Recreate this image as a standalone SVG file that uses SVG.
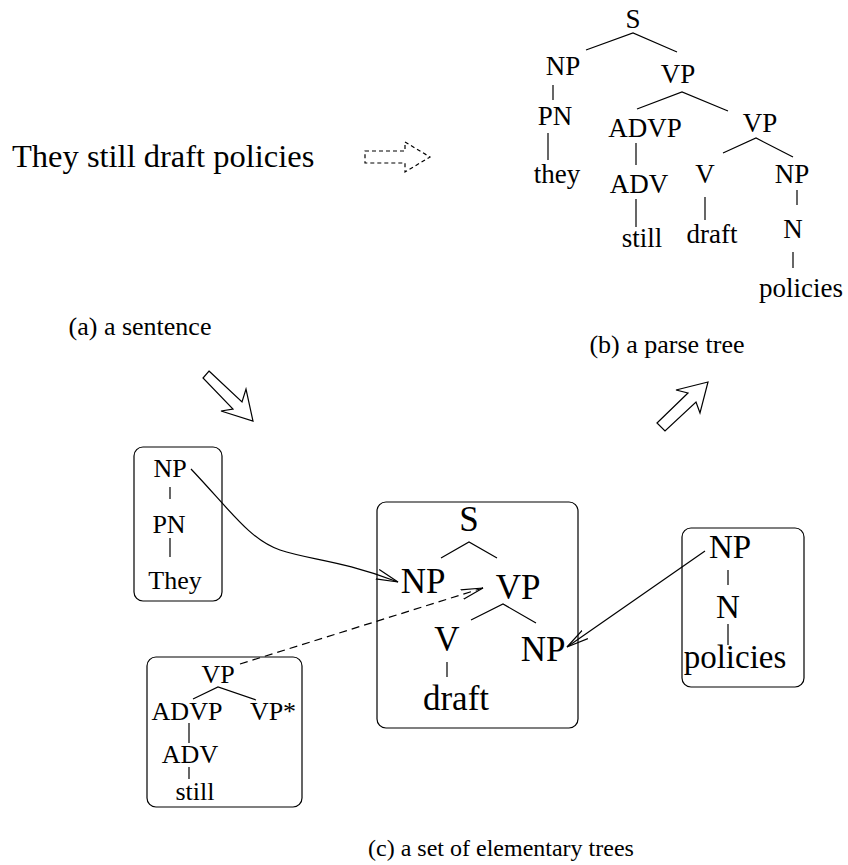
<svg xmlns="http://www.w3.org/2000/svg" width="848" height="865" viewBox="0 0 848 865">
<style>
text{font-family:"Liberation Serif","Times New Roman",serif;fill:#000;text-anchor:middle}
.t27{font-size:27px}
.t26{font-size:26px}
.t35{font-size:35px}
.t33{font-size:33px}
.lbl{font-size:26px}
.lblc{font-size:24px}
line,path,polyline,polygon,rect{stroke:#000;fill:none;stroke-width:1.2}
.box{rx:9;ry:9}
</style>
<defs>
<marker id="open" markerWidth="24" markerHeight="12" refX="22" refY="6" orient="auto" markerUnits="userSpaceOnUse">
<polyline points="0,1 22,6 0,11" style="stroke:#000;fill:none;stroke-width:1.2"/>
</marker>
</defs>

<!-- sentence -->
<g id="sentence">
<text x="12" y="167" style="font-size:32.5px;text-anchor:start">They still draft policies</text>
</g>
<g id="dashed-arrow">
<polygon points="365,151 405,151 405,142 430,157 405,172 405,163 365,163" style="stroke-dasharray:4,3"/>
</g>

<!-- parse tree -->
<g id="parse-tree">
<text class="t27" x="633" y="28">S</text>
<polyline points="586,50 633,33 677,52"/>
<text class="t27" x="563" y="75">NP</text>
<text class="t27" x="678" y="83">VP</text>
<line x1="553" y1="85" x2="553" y2="100"/>
<text class="t27" x="555" y="125">PN</text>
<line x1="548" y1="133" x2="548" y2="160"/>
<text class="t27" x="557" y="183">they</text>
<polyline points="637,109 682,92 728,111"/>
<text class="t27" x="645" y="137">ADVP</text>
<text class="t27" x="760" y="132">VP</text>
<line x1="636" y1="143" x2="636" y2="165"/>
<text class="t27" x="639" y="193">ADV</text>
<line x1="636" y1="199" x2="636" y2="227"/>
<text class="t27" x="642" y="247">still</text>
<polyline points="723,153 756,138 793,157"/>
<text class="t27" x="705" y="183">V</text>
<line x1="705" y1="197" x2="705" y2="220"/>
<text class="t27" x="712" y="243">draft</text>
<text class="t27" x="792" y="183">NP</text>
<line x1="797" y1="190" x2="797" y2="205"/>
<text class="t27" x="793" y="238">N</text>
<line x1="793" y1="252" x2="793" y2="268"/>
<text class="t27" x="801" y="297">policies</text>
</g>

<g id="labels">
<text class="lbl" x="140" y="335">(a) a sentence</text>
<text class="lbl" x="667" y="353">(b) a parse tree</text>
<text class="lblc" x="501" y="856">(c) a set of elementary trees</text>
</g>

<g id="block-arrows">
<polygon points="209,371 242,402 246,389 253,421 221,411 233,409 203,378"/>
<polygon points="657,423 688,393 676,390 708,382 700,413 696,402 665,431"/>
</g>

<!-- elementary tree: They -->
<g id="tree-they">
<rect class="box" x="134" y="447" width="88" height="154"/>
<text class="t26" x="170" y="477">NP</text>
<line x1="170" y1="487" x2="170" y2="499"/>
<text class="t26" x="169" y="533">PN</text>
<line x1="170" y1="538" x2="170" y2="557"/>
<text class="t26" x="175" y="589">They</text>
</g>

<!-- elementary tree: draft -->
<g id="tree-draft">
<rect class="box" x="377" y="502" width="201" height="226"/>
<text class="t35" x="469" y="531">S</text>
<polyline points="441,558 469,542 497,558"/>
<text class="t35" x="423" y="593">NP</text>
<text class="t35" x="518" y="599">VP</text>
<polyline points="471,620 503,604 536,623"/>
<text class="t35" x="447" y="651">V</text>
<line x1="447" y1="662" x2="447" y2="677"/>
<text class="t35" x="456" y="710">draft</text>
<text class="t35" x="543" y="661">NP</text>
</g>

<!-- elementary tree: still -->
<g id="tree-still">
<rect class="box" x="147" y="657" width="155" height="150"/>
<text class="t26" x="218" y="683">VP</text>
<polyline points="193,699 218,687 256,700"/>
<text class="t26" x="187" y="720">ADVP</text>
<text class="t26" x="273" y="720">VP*</text>
<line x1="189" y1="723" x2="189" y2="743"/>
<text class="t26" x="190" y="763">ADV</text>
<line x1="189" y1="767" x2="189" y2="779"/>
<text class="t26" x="195" y="800">still</text>
</g>

<!-- elementary tree: policies -->
<g id="tree-policies">
<rect class="box" x="682" y="528" width="122" height="159"/>
<text class="t33" x="730" y="558">NP</text>
<line x1="728" y1="570" x2="728" y2="585"/>
<text class="t33" x="728" y="618">N</text>
<line x1="728" y1="624" x2="728" y2="645"/>
<text class="t33" x="735" y="668">policies</text>
</g>

<g id="connectors">
<path d="M191,469 C230,510 250,540 280,550 S340,560 398,582" marker-end="url(#open)"/>
<line x1="240" y1="664" x2="483" y2="588" style="stroke-dasharray:8,5" marker-end="url(#open)"/>
<line x1="705" y1="551" x2="567" y2="647" marker-end="url(#open)"/>
</g>
</svg>
